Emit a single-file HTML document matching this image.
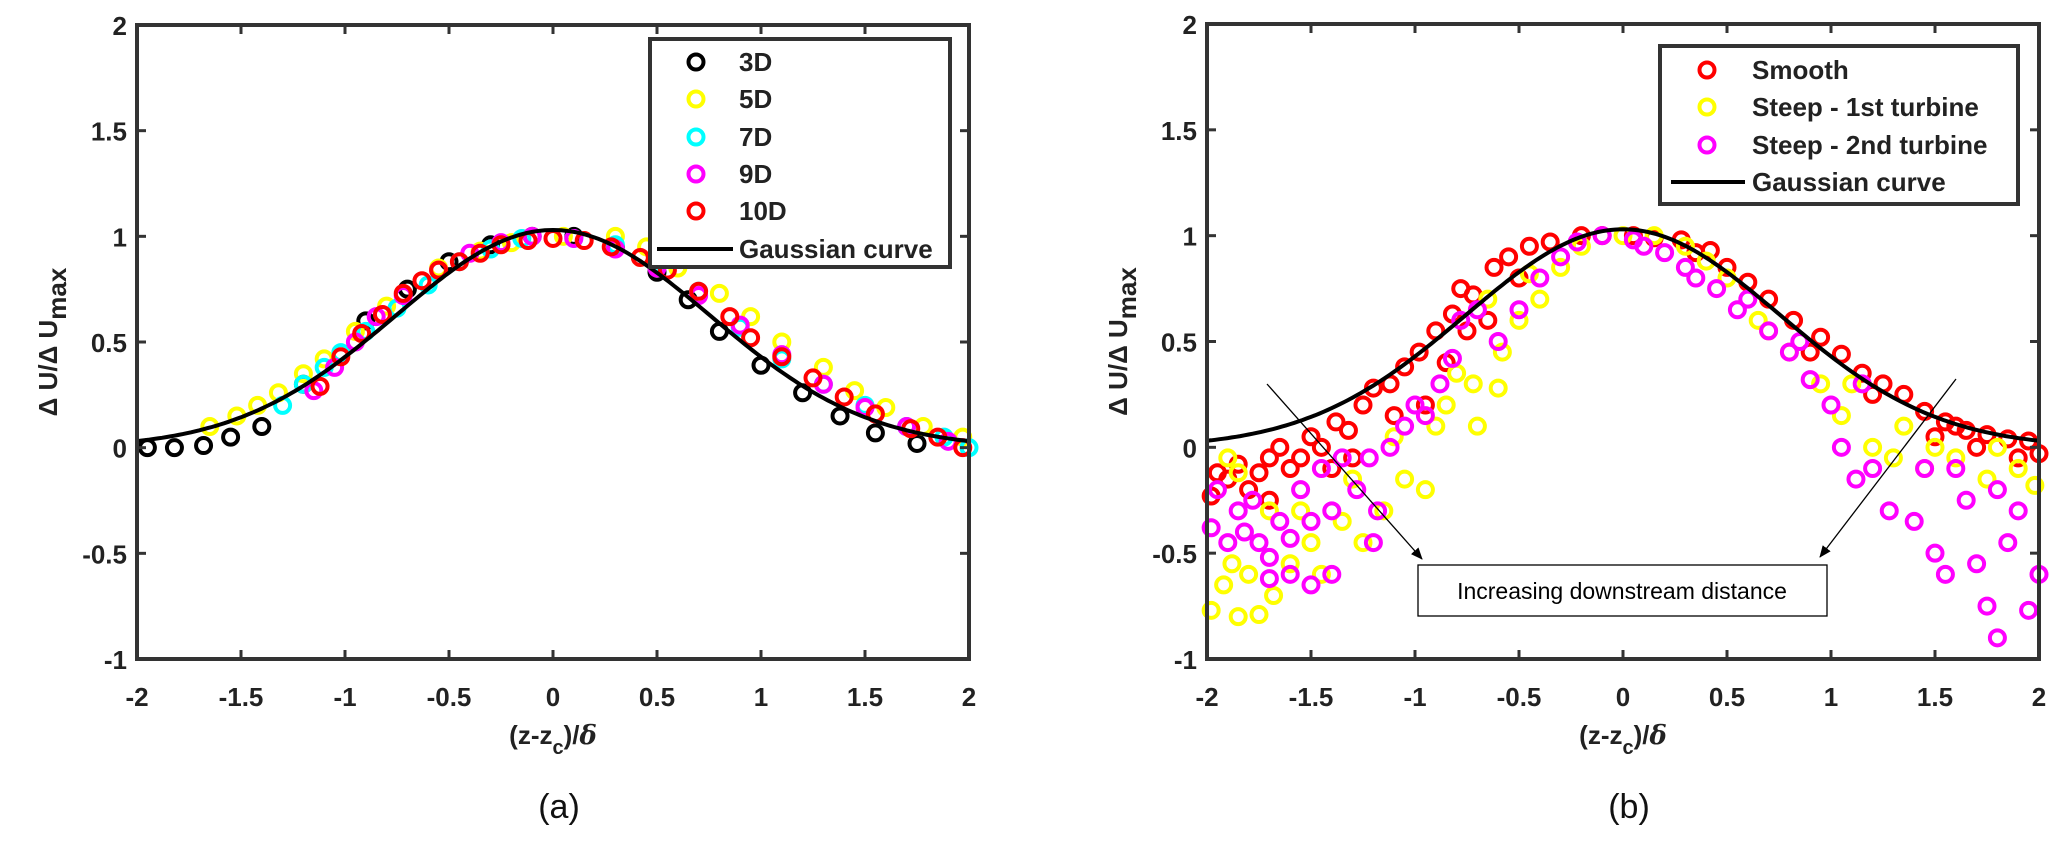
<!DOCTYPE html>
<html><head><meta charset="utf-8">
<style>
html,body{margin:0;padding:0;background:#fff;}
svg{display:block;font-family:"Liberation Sans",sans-serif;}
.tk{font-weight:bold;font-size:26px;fill:#222;}
</style></head>
<body>
<svg id="chart" width="2067" height="849" viewBox="0 0 2067 849" xmlns="http://www.w3.org/2000/svg"></svg>
<script>
// Data arrays
const xTicks = [-2,-1.5,-1,-0.5,0,0.5,1,1.5,2];
const yTicks = [-1,-0.5,0,0.5,1,1.5,2];
const gaussAmp = [1.03];
const gaussSigma = [0.756];
const a3D = [[-1.95,0],[-1.82,0],[-1.68,0.01],[-1.55,0.05],[-1.4,0.1],[-1.2,0.3],[-0.9,0.6],[-0.7,0.75],[-0.5,0.88],[-0.3,0.96],[-0.1,1.0],[0.1,1.0],[0.3,0.95],[0.5,0.83],[0.65,0.7],[0.8,0.55],[1.0,0.39],[1.2,0.26],[1.38,0.15],[1.55,0.07],[1.75,0.02]];
const a5D = [[-1.65,0.1],[-1.52,0.15],[-1.42,0.2],[-1.32,0.26],[-1.2,0.35],[-1.1,0.42],[-0.95,0.55],[-0.8,0.67],[-0.55,0.85],[-0.35,0.93],[-0.2,0.97],[0.05,1.0],[0.3,1.0],[0.45,0.95],[0.6,0.85],[0.8,0.73],[0.95,0.62],[1.1,0.5],[1.3,0.38],[1.45,0.27],[1.6,0.19],[1.78,0.1],[1.97,0.05]];
const a7D = [[-1.3,0.2],[-1.2,0.3],[-1.1,0.38],[-1.02,0.45],[-0.9,0.55],[-0.75,0.66],[-0.6,0.77],[-0.45,0.88],[-0.3,0.94],[-0.15,0.99],[0.1,0.99],[0.3,0.96],[0.5,0.87],[0.7,0.74],[0.9,0.57],[1.1,0.42],[1.3,0.3],[1.5,0.2],[1.7,0.1],[1.88,0.05],[2.0,0.0]];
const a9D = [[-1.15,0.27],[-1.05,0.38],[-0.95,0.5],[-0.85,0.62],[-0.72,0.72],[-0.55,0.84],[-0.4,0.92],[-0.25,0.97],[-0.1,1.0],[0.1,0.99],[0.3,0.94],[0.5,0.85],[0.7,0.72],[0.9,0.58],[1.1,0.44],[1.3,0.3],[1.5,0.19],[1.7,0.1],[1.9,0.03]];
const a10D = [[-1.12,0.29],[-1.02,0.43],[-0.92,0.54],[-0.82,0.63],[-0.72,0.73],[-0.63,0.79],[-0.55,0.84],[-0.45,0.88],[-0.35,0.92],[-0.25,0.96],[-0.12,0.98],[0,0.99],[0.15,0.98],[0.28,0.95],[0.42,0.9],[0.55,0.84],[0.7,0.74],[0.85,0.62],[0.95,0.52],[1.1,0.43],[1.25,0.33],[1.4,0.24],[1.55,0.16],[1.72,0.09],[1.85,0.05],[1.97,0.0]];
const bSmooth = [[-1.98,-0.23],[-1.95,-0.12],[-1.9,-0.15],[-1.85,-0.08],[-1.8,-0.2],[-1.75,-0.12],[-1.7,-0.05],[-1.65,0.0],[-1.6,-0.1],[-1.55,-0.05],[-1.5,0.05],[-1.45,0.0],[-1.38,0.12],[-1.32,0.08],[-1.25,0.2],[-1.2,0.28],[-1.12,0.3],[-1.05,0.38],[-0.98,0.45],[-0.9,0.55],[-0.82,0.63],[-0.78,0.75],[-0.72,0.72],[-0.65,0.6],[-0.62,0.85],[-0.55,0.9],[-0.45,0.95],[-0.35,0.97],[-0.2,1.0],[-0.1,1.0],[0.05,1.0],[0.15,0.99],[0.28,0.98],[0.42,0.93],[0.5,0.85],[0.6,0.78],[0.7,0.7],[0.82,0.6],[0.95,0.52],[1.05,0.44],[1.15,0.35],[1.25,0.3],[1.35,0.25],[1.45,0.17],[1.55,0.12],[1.65,0.08],[1.75,0.06],[1.85,0.04],[1.95,0.03],[2.0,-0.03],[1.9,-0.05],[1.7,0.0],[1.5,0.05],[-1.4,-0.1],[-1.7,-0.25],[-1.3,-0.05],[-1.1,0.15],[-0.95,0.2],[-0.85,0.4],[-0.75,0.55],[-0.5,0.8],[0.35,0.92],[0.9,0.45],[1.2,0.25],[1.6,0.1]];
const bSteep1 = [[-1.98,-0.77],[-1.92,-0.65],[-1.85,-0.8],[-1.75,-0.79],[-1.88,-0.55],[-1.8,-0.6],[-1.68,-0.7],[-1.6,-0.55],[-1.5,-0.45],[-1.45,-0.6],[-1.35,-0.35],[-1.25,-0.45],[-1.15,-0.3],[-1.05,-0.15],[-0.95,-0.2],[-0.9,0.1],[-0.85,0.2],[-0.8,0.35],[-0.72,0.3],[-0.7,0.1],[-0.6,0.28],[-0.58,0.45],[-0.5,0.6],[-0.4,0.7],[-0.3,0.85],[-0.2,0.95],[0.0,1.0],[0.15,1.0],[0.3,0.95],[0.5,0.8],[0.65,0.6],[0.8,0.45],[0.95,0.3],[1.05,0.15],[1.2,0.0],[1.3,-0.05],[1.45,-0.1],[1.6,-0.05],[1.75,-0.15],[1.9,-0.1],[1.98,-0.18],[-1.9,-0.05],[-1.85,-0.12],[-1.7,-0.3],[-1.55,-0.3],[-1.3,-0.15],[-1.1,0.05],[1.5,0.0],[1.8,0.0],[1.35,0.1],[-0.65,0.7],[-0.45,0.82],[0.4,0.88],[0.7,0.55],[1.1,0.3]];
const bSteep2 = [[-1.98,-0.38],[-1.95,-0.2],[-1.9,-0.45],[-1.85,-0.3],[-1.82,-0.4],[-1.78,-0.25],[-1.75,-0.45],[-1.7,-0.52],[-1.65,-0.35],[-1.6,-0.43],[-1.55,-0.2],[-1.5,-0.35],[-1.45,-0.1],[-1.4,-0.3],[-1.35,-0.05],[-1.28,-0.2],[-1.22,-0.05],[-1.18,-0.3],[-1.12,0.0],[-1.05,0.1],[-1.0,0.2],[-0.95,0.15],[-0.88,0.3],[-0.82,0.42],[-0.78,0.6],[-0.7,0.65],[-0.6,0.5],[-0.5,0.65],[-0.4,0.8],[-0.3,0.9],[-0.22,0.97],[-0.1,1.0],[0.05,0.98],[0.2,0.92],[0.3,0.85],[0.45,0.75],[0.55,0.65],[0.7,0.55],[0.8,0.45],[0.9,0.32],[1.0,0.2],[1.05,0.0],[1.12,-0.15],[1.2,-0.1],[1.28,-0.3],[1.4,-0.35],[1.5,-0.5],[1.55,-0.6],[1.65,-0.25],[1.7,-0.55],[1.75,-0.75],[1.8,-0.9],[1.85,-0.45],[1.9,-0.3],[1.95,-0.77],[2.0,-0.6],[1.6,-0.1],[1.8,-0.2],[1.45,-0.1],[-1.6,-0.6],[-1.5,-0.65],[-1.4,-0.6],[-1.2,-0.45],[-1.7,-0.62],[0.1,0.95],[0.35,0.8],[0.6,0.7],[0.85,0.5],[1.15,0.3]];

const NS="http://www.w3.org/2000/svg";
const svg=document.getElementById('chart');
function el(tag,attrs,parent){const e=document.createElementNS(NS,tag);for(const k in attrs)e.setAttribute(k,attrs[k]);(parent||svg).appendChild(e);return e;}

function panel(L,R,T,B,series,name,letter){
  const g=el('g',{});
  
  
  const sx=v=>L+(v+2)/4*(R-L);
  const sy=v=>B-(v+1)/3*(B-T);
  series.forEach(s=>{
    const sg=el('g',{},g);
    
    
    s.data.forEach(p=>{
      const c=el('circle',{cx:sx(p[0]),cy:sy(p[1]),r:7.5,fill:'none',stroke:s.color,'stroke-width':4},sg);
      
      
    });
  });
  let d='';
  for(let i=0;i<=200;i++){const x=-2+4*i/200;const y=gaussAmp[0]*Math.exp(-x*x/(2*gaussSigma[0]*gaussSigma[0]));d+=(i?'L':'M')+sx(x).toFixed(1)+','+sy(y).toFixed(1);}
  const gp=el('path',{d:d,fill:'none',stroke:'#000','stroke-width':4},g);
  
  
  const box=el('rect',{x:L,y:T,width:R-L,height:B-T,fill:'none',stroke:'#333','stroke-width':4},g);
  
  
  xTicks.forEach(v=>{
    el('line',{x1:sx(v),x2:sx(v),y1:B,y2:B-9,stroke:'#333','stroke-width':3},g);
    el('line',{x1:sx(v),x2:sx(v),y1:T,y2:T+9,stroke:'#333','stroke-width':3},g);
    const t=el('text',{x:sx(v),y:B+47,'text-anchor':'middle',class:'tk'},g);
    t.textContent=String(v);
    
    
  });
  yTicks.forEach(v=>{
    el('line',{x1:L,x2:L+9,y1:sy(v),y2:sy(v),stroke:'#333','stroke-width':3},g);
    el('line',{x1:R,x2:R-9,y1:sy(v),y2:sy(v),stroke:'#333','stroke-width':3},g);
    const t=el('text',{x:L-10,y:sy(v)+10,'text-anchor':'end',class:'tk'},g);
    t.textContent=String(v);
    
    
  });
  const cx=(L+R)/2;
  const xl=el('text',{x:cx,y:744,'text-anchor':'middle',class:'tk'},g);
  xl.innerHTML='(z-z<tspan font-size="20" dy="10">c</tspan><tspan dy="-10">)/</tspan><tspan font-style="italic" font-family="DejaVu Serif, serif">δ</tspan>';
  
  
  const yl=el('text',{x:0,y:0,'text-anchor':'middle',class:'tk',transform:`translate(${L-80},${sy(0.5)}) rotate(-90)`,'font-size':'32'},g);
  yl.innerHTML='Δ U/Δ U<tspan font-size="26" dy="9">max</tspan>';
  
  
  const lt=el('text',{x:cx+6,y:818,'text-anchor':'middle','font-size':'34',fill:'#111'},g);
  lt.textContent=letter;
  
  
  return {g,sx,sy};
}

const A=panel(137,969,25,659,[
  {name:'series-3d',color:'#000',data:a3D},
  {name:'series-5d',color:'#ffff00',data:a5D},
  {name:'series-7d',color:'#00ffff',data:a7D},
  {name:'series-9d',color:'#ff00ff',data:a9D},
  {name:'series-10d',color:'#ff0000',data:a10D}
],'panel-a','(a)');
function legend(parent,x,y,w,h,entries,mx,tx,ys,lineX1,lineX2,name){
  const lg=el('g',{},parent);
  
  
  el('rect',{x:x,y:y,width:w,height:h,fill:'#fff',stroke:'#333','stroke-width':4},lg);
  entries.forEach((e,i)=>{
    const eg=el('g',{},lg);
    
    
    if(e.line) el('line',{x1:lineX1,x2:lineX2,y1:ys[i],y2:ys[i],stroke:'#000','stroke-width':4},eg);
    else el('circle',{cx:mx,cy:ys[i],r:7.5,fill:'none',stroke:e.color,'stroke-width':4},eg);
    const t=el('text',{x:tx,y:ys[i]+9,class:'tk','font-size':'25'},eg);
    t.textContent=e.label;
  });
}
legend(A.g,650,39,300,228,[
  {label:'3D',color:'#000'},{label:'5D',color:'#ffff00'},{label:'7D',color:'#00ffff'},
  {label:'9D',color:'#ff00ff'},{label:'10D',color:'#ff0000'},{label:'Gaussian  curve',line:true}
],696,739,[62,99,137,174,211,249],657,733,'legend-a');

const Bp=panel(1207,2039,24,659,[
  {name:'series-smooth',color:'#ff0000',data:bSmooth},
  {name:'series-steep-1st',color:'#ffff00',data:bSteep1},
  {name:'series-steep-2nd',color:'#ff00ff',data:bSteep2}
],'panel-b','(b)');
legend(Bp.g,1660,46,358,158,[
  {label:'Smooth',color:'#ff0000'},{label:'Steep - 1st  turbine',color:'#ffff00'},
  {label:'Steep - 2nd  turbine',color:'#ff00ff'},{label:'Gaussian  curve',line:true}
],1707,1752,[70,107,145,182],1671,1745,'legend-b');

const defs=el('defs',{});
const mk=el('marker',{id:'ah',markerWidth:12,markerHeight:10,refX:11,refY:5,orient:'auto',markerUnits:'userSpaceOnUse'},defs);
el('path',{d:'M0,0 L12,5 L0,10 Z',fill:'#000'},mk);
const a1=el('line',{x1:1267,y1:384,x2:1422,y2:559,stroke:'#000','stroke-width':1.3,'marker-end':'url(#ah)'});


const a2=el('line',{x1:1956,y1:379,x2:1820,y2:557,stroke:'#000','stroke-width':1.3,'marker-end':'url(#ah)'});


const ab=el('rect',{x:1418,y:565,width:409,height:51,fill:'#fff',stroke:'#000','stroke-width':1.3});


const at=el('text',{x:1622,y:599,'text-anchor':'middle','font-size':'23',fill:'#000'});
at.textContent='Increasing downstream distance';


</script>
</body></html>
